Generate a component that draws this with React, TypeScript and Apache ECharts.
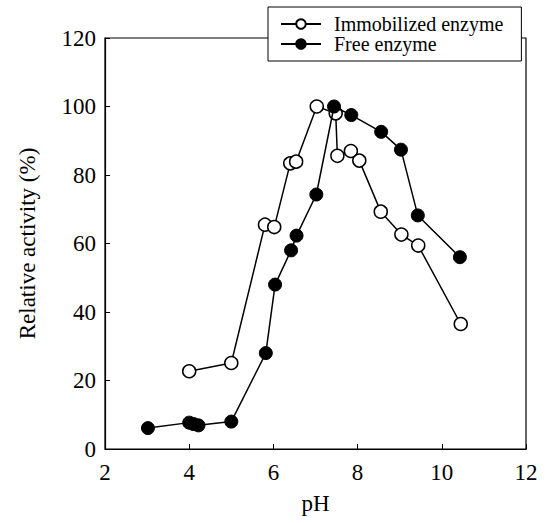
import React, { useEffect, useRef } from "react";
import * as echarts from "echarts";

const immobilizedPH = [4.0, 5.0, 5.8, 6.02, 6.4, 6.54, 7.03, 7.48, 7.52, 7.84, 8.04, 8.55, 9.04, 9.44, 10.45];
const immobilizedActivity = [22.7, 25.1, 65.5, 64.8, 83.4, 83.9, 100, 98, 85.6, 87, 84.2, 69.3, 62.6, 59.4, 36.5];
const freePH = [3.02, 4.0, 4.1, 4.22, 5.0, 5.82, 6.04, 6.42, 6.55, 7.02, 7.44, 7.85, 8.56, 9.03, 9.43, 10.43];
const freeActivity = [6.1, 7.7, 7.3, 6.9, 8.0, 28.0, 48.0, 58.0, 62.3, 74.3, 100, 97.5, 92.6, 87.4, 68.2, 56.0];
const seriesNames = ["Immobilized enzyme", "Free enzyme"];
const xTicks = { min: 2, max: 12, interval: 2 };
const yTicks = { min: 0, max: 120, interval: 20 };

const FONT = "Liberation Serif";

const tickLabel = (margin: number) => ({
  fontFamily: FONT,
  fontSize: 23,
  color: "#000",
  margin,
  formatter: (v: number) => `{t|${v}}`,
  rich: { t: { fontFamily: FONT, fontSize: 23, color: "#000" } },
});

export default function App() {
  const ref = useRef<HTMLDivElement>(null);
  useEffect(() => {
    if (!ref.current) return;
    const chart = echarts.init(ref.current, undefined, { renderer: "svg" });
    const toPairs = (xs: number[], ys: number[]) => xs.map((x, i) => [x, ys[i]]);
    chart.setOption({
      animation: false,
      backgroundColor: "#fff",
      textStyle: { fontFamily: FONT },
      grid: {
        left: 105,
        right: 23,
        top: 38,
        bottom: 74,
        show: true,
        borderColor: "#000",
        borderWidth: 1.2,
        backgroundColor: "transparent",
      },
      legend: {
        data: seriesNames,
        orient: "vertical",
        left: 268,
        top: 7,
        z: 10,
        itemWidth: 40,
        itemHeight: 12,
        itemGap: 0,
        borderColor: "#000",
        borderWidth: 1,
        backgroundColor: "#fff",
        padding: [7, 18, 7, 12],
        textStyle: {
          fontFamily: FONT,
          fontSize: 20,
          color: "#000",
          padding: [0, 0, 0, 8],
        },
      },
      xAxis: {
        type: "value",
        min: xTicks.min,
        max: xTicks.max,
        interval: xTicks.interval,
        name: "pH",
        nameLocation: "middle",
        nameGap: 43,
        nameTextStyle: { fontFamily: FONT, fontSize: 23, color: "#000" },
        axisLine: { lineStyle: { color: "#000", width: 1.2 } },
        axisTick: { inside: true, length: 5, lineStyle: { color: "#000" } },
        axisLabel: tickLabel(12),
        splitLine: { show: false },
      },
      yAxis: {
        type: "value",
        min: yTicks.min,
        max: yTicks.max,
        interval: yTicks.interval,
        name: "Relative activity (%)",
        nameLocation: "middle",
        nameGap: 66,
        nameTextStyle: { fontFamily: FONT, fontSize: 23, color: "#000" },
        axisLine: { show: true, lineStyle: { color: "#000", width: 1.2 } },
        axisTick: { show: true, inside: true, length: 5, lineStyle: { color: "#000" } },
        axisLabel: tickLabel(9),
        splitLine: { show: false },
      },
      series: [
        {
          name: seriesNames[0],
          type: "line",
          data: toPairs(immobilizedPH, immobilizedActivity),
          symbol: "circle",
          symbolSize: 13,
          lineStyle: { color: "#000", width: 1.5 },
          itemStyle: { color: "#fff", borderColor: "#000", borderWidth: 1.5 },
          z: 3,
        },
        {
          name: seriesNames[1],
          type: "line",
          data: toPairs(freePH, freeActivity),
          symbol: "circle",
          symbolSize: 13,
          lineStyle: { color: "#000", width: 1.5 },
          itemStyle: { color: "#000", borderColor: "#000", borderWidth: 1 },
          z: 4,
        },
      ],
    });
    return () => chart.dispose();
  }, []);
  return <div ref={ref} style={{ width: 549, height: 523, position: "absolute", left: 0, top: 0 }} />;
}
